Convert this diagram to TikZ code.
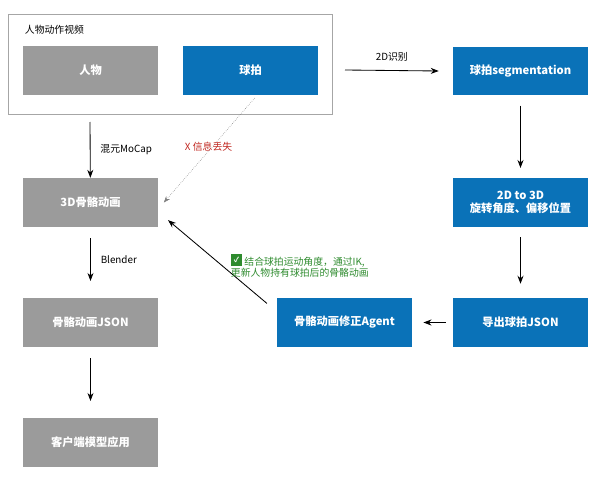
\documentclass[tikz,border=0pt]{standalone}
\usepackage{fontspec}
\setmainfont{Noto Sans CJK SC}
\usetikzlibrary{arrows.meta, positioning}
\definecolor{boxblue}{HTML}{0A72B8}
\definecolor{boxgray}{HTML}{9B9B9B}
\definecolor{lossred}{HTML}{C0261F}
\definecolor{okgreen}{HTML}{2E8B2E}

\begin{document}
\begin{tikzpicture}[
    x=0.025cm, y=-0.025cm,
    box/.style={rectangle, minimum width=3.37cm, minimum height=1.22cm, font=\footnotesize\bfseries, text=white, align=center, inner sep=0pt},
    gbox/.style={box, fill=boxgray},
    bbox/.style={box, fill=boxblue},
    flow/.style={-{Stealth[length=2mm]}, semithick},
    edge_label/.style={font=\scriptsize, inner sep=1pt, anchor=west}
]
    \useasboundingbox (0,0) rectangle (600,480);

    % video frame
    \node[draw=gray!70, semithick, minimum width=8.1cm, minimum height=2.52cm, inner sep=0pt] (video) at (170,64.5) {};
    \node[font=\scriptsize, anchor=west] (videotitle) at (20,30) {人物动作视频};

    % left column
    \node[gbox] (person) at (90.5,70.5) {人物};
    \node[bbox] (racket) at (250.5,70.5) {球拍};
    \node[gbox] (anim3d) at (90.5,202.5) {3D骨骼动画};
    \node[gbox] (animjson) at (90.5,322.5) {骨骼动画JSON};
    \node[gbox] (client) at (90.5,442.5) {客户端模型应用};

    % right column
    \node[bbox] (seg) at (520.5,71) {球拍segmentation};
    \node[bbox] (lift) at (520.5,202.5) {2D to 3D\\旋转角度、偏移位置};
    \node[bbox] (export) at (520.5,322.5) {导出球拍JSON};
    \node[bbox] (agent) at (344.5,322.5) {骨骼动画修正Agent};

    % connectors
    \coordinate (vbot) at (90,122);
    \coordinate (vright) at (345,70);
    \draw[flow] (vbot) -- (anim3d) node[midway, edge_label, xshift=6pt] {混元MoCap};
    \draw[flow] (vright) -- ([xshift=-10pt]seg.west) node[midway, above=3pt, font=\scriptsize] {2D识别};
    \draw[flow] ([yshift=-7pt]seg.south) -- ([yshift=7pt]lift.north);
    \draw[flow] ([yshift=-7pt]lift.south) -- ([yshift=10pt]export.north);
    \draw[flow] ([xshift=-5pt]export.west) -- ([xshift=8pt]agent.west -| agent.east);
    \draw[flow] ([xshift=-7pt,yshift=-4pt]agent.north west) -- ([xshift=7pt,yshift=5pt]anim3d.south east);
    \draw[-{Stealth[length=1.6mm]}, densely dotted, gray] ([xshift=3pt,yshift=-2pt]racket.south) -- ([xshift=4pt]anim3d.east);
    \draw[flow] ([yshift=-8pt]anim3d.south) -- ([yshift=12pt]animjson.north) node[midway, edge_label, xshift=6pt] {Blender};
    \draw[flow] ([yshift=-8pt]animjson.south) -- ([yshift=12pt]client.north);

    % notes
    \node[font=\scriptsize, text=lossred, anchor=west] (loss) at (180,147) {X 信息丢失};
    \node[font=\scriptsize, text=okgreen, align=left, anchor=west] (fixnote) at (226,266)
        {\tikz\node[fill=okgreen, text=white, inner sep=0.5pt, minimum size=8pt, font=\tiny\bfseries]{✓};\ 结合球拍运动角度，通过IK,\\更新人物持有球拍后的骨骼动画};
\end{tikzpicture}
\end{document}
